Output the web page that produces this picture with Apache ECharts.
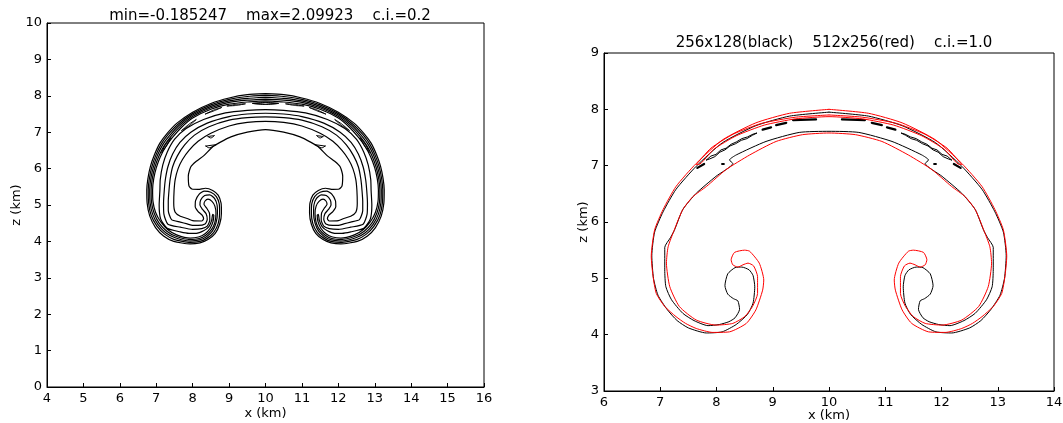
<!DOCTYPE html>
<html>
<head>
<meta charset="utf-8">
<script src="https://cdn.jsdelivr.net/npm/echarts/dist/echarts.min.js"></script>
<style>
  html, body { margin: 0; padding: 0; background: #fff; }
  #chart { width: 1063px; height: 423px; }
</style>
</head>
<body>
<div id="chart"></div>
<script>
// field is symmetric about x = 10 km, so only the left half of each contour is kept,
// read off the picture as [x, z] in km, from the top of the outer edge round to the top of the inner edge

// ---- left panel (c.i. = 0.2) ----
const leftLoopA = [
  [10, 8.06], [9.5, 8.03], [9.0, 7.94], [8.5, 7.79], [8.0, 7.55], [7.57, 7.25], [7.3, 6.97], [7.1, 6.7],
  [6.95, 6.38], [6.84, 6.06], [6.77, 5.72], [6.74, 5.42], [6.75, 5.05], [6.82, 4.7], [6.98, 4.38], [7.2, 4.15],
  [7.48, 4.0], [7.93, 3.93], [8.2, 3.96], [8.42, 4.05], [8.62, 4.22], [8.74, 4.47], [8.79, 4.77], [8.78, 5.05],
  [8.7, 5.27], [8.55, 5.4], [8.35, 5.46], [8.15, 5.43], [7.98, 5.44], [7.9, 5.52], [7.88, 5.8], [7.95, 6.05],
  [8.1, 6.2], [8.3, 6.35], [8.55, 6.6], [8.75, 6.72], [9.05, 6.87], [9.5, 7.0], [10, 7.07]
]
const leftLoopB = [
  [10, 8.01], [9.5, 7.98], [9.0, 7.9], [8.5, 7.75], [8.0, 7.51], [7.6, 7.22], [7.33, 6.94], [7.14, 6.68],
  [6.99, 6.37], [6.88, 6.05], [6.81, 5.72], [6.78, 5.42], [6.79, 5.06], [6.86, 4.72], [7.02, 4.42], [7.23, 4.2],
  [7.5, 4.05], [7.93, 3.97], [8.2, 4.0], [8.4, 4.09], [8.58, 4.25], [8.7, 4.49], [8.74, 4.77], [8.73, 5.03],
  [8.65, 5.23], [8.5, 5.35], [8.32, 5.38], [8.18, 5.3], [8.08, 5.12], [8.07, 4.95], [8.15, 4.82], [8.26, 4.72],
  [8.3, 4.62], [8.25, 4.56], [8.0, 4.57], [7.85, 4.63], [7.66, 4.69], [7.52, 4.8], [7.48, 5.05], [7.49, 5.4],
  [7.52, 5.7], [7.6, 6.0], [7.72, 6.25], [7.9, 6.5], [8.15, 6.75], [8.5, 6.97], [9.0, 7.17], [9.5, 7.27], [10, 7.3]
]
const leftLoopC = [
  [10, 7.96], [9.5, 7.93], [9.0, 7.86], [8.5, 7.71], [8.0, 7.47], [7.63, 7.19], [7.37, 6.91], [7.18, 6.66],
  [7.03, 6.36], [6.92, 6.04], [6.85, 5.72], [6.82, 5.42], [6.83, 5.07], [6.9, 4.75], [7.05, 4.46], [7.26, 4.24],
  [7.52, 4.1], [7.93, 4.01], [8.19, 4.04], [8.38, 4.13], [8.54, 4.28], [8.64, 4.5], [8.68, 4.77], [8.67, 5.0],
  [8.6, 5.18], [8.47, 5.28], [8.33, 5.26], [8.22, 5.14], [8.2, 5.0], [8.27, 4.88], [8.37, 4.76], [8.4, 4.6],
  [8.34, 4.48], [8.15, 4.44], [8.0, 4.44], [7.85, 4.48], [7.66, 4.53], [7.42, 4.6], [7.33, 4.85], [7.33, 5.1],
  [7.35, 5.4], [7.38, 5.7], [7.45, 6.05], [7.58, 6.35], [7.78, 6.65], [8.05, 6.92], [8.45, 7.15], [9.0, 7.33],
  [9.5, 7.4], [10, 7.42]
]
const leftLoopD = [
  [10, 7.91], [9.5, 7.88], [9.0, 7.82], [8.5, 7.67], [8.0, 7.43], [7.66, 7.16], [7.4, 6.88], [7.22, 6.63],
  [7.07, 6.34], [6.96, 6.03], [6.89, 5.72], [6.86, 5.42], [6.87, 5.08], [6.94, 4.78], [7.08, 4.5], [7.29, 4.28],
  [7.54, 4.14], [7.93, 4.05], [8.18, 4.08], [8.36, 4.17], [8.52, 4.33], [8.61, 4.52], [8.64, 4.77], [8.61, 4.97],
  [8.53, 5.1], [8.42, 5.16], [8.34, 5.11], [8.31, 5.02], [8.38, 4.92], [8.46, 4.78], [8.47, 4.58], [8.4, 4.42],
  [8.25, 4.35], [8.0, 4.33], [7.66, 4.39], [7.32, 4.47], [7.21, 4.75], [7.2, 5.05], [7.22, 5.4], [7.25, 5.7],
  [7.32, 6.05], [7.45, 6.4], [7.65, 6.72], [7.95, 7.0], [8.4, 7.25], [9.0, 7.43], [9.5, 7.5], [10, 7.52]
]
const leftLoopE = [
  [10, 7.86], [9.5, 7.83], [9.0, 7.77], [8.5, 7.63], [8.0, 7.39], [7.69, 7.13], [7.44, 6.85], [7.26, 6.6],
  [7.11, 6.32], [7.0, 6.02], [6.93, 5.72], [6.9, 5.42], [6.91, 5.1], [6.98, 4.8], [7.12, 4.54], [7.32, 4.32],
  [7.56, 4.18], [7.93, 4.09], [8.16, 4.12], [8.34, 4.21], [8.48, 4.36], [8.56, 4.55], [8.58, 4.72], [8.55, 4.74],
  [8.52, 4.57], [8.44, 4.4], [8.3, 4.29], [8.1, 4.22], [7.9, 4.22], [7.66, 4.26], [7.3, 4.36], [7.12, 4.62],
  [7.08, 5.0], [7.1, 5.4], [7.11, 5.7], [7.18, 6.1], [7.3, 6.45], [7.5, 6.8], [7.82, 7.1], [8.3, 7.35],
  [8.9, 7.53], [9.5, 7.6], [10, 7.62]
]
// small closed contours between the bands (left side only)
const leftSmall = [
  [[9.65, 7.79], [10, 7.815], [10.35, 7.79], [10, 7.765], [9.65, 7.79]],
  [[8.95, 7.72], [9.2, 7.765], [9.45, 7.78], [9.2, 7.735], [8.95, 7.72]],
  [[8.35, 7.5], [8.6, 7.62], [8.8, 7.68], [8.58, 7.585], [8.35, 7.5]],
  [[7.7, 7.05], [7.9, 7.22], [8.1, 7.35], [7.92, 7.19], [7.7, 7.05]],
  [[7.15, 6.45], [7.25, 6.65], [7.4, 6.85], [7.28, 6.62], [7.15, 6.45]],
  [[8.42, 6.88], [8.6, 6.91], [8.5, 6.84], [8.42, 6.88]],
  [[8.36, 6.62], [8.66, 6.66], [8.45, 6.57], [8.36, 6.62]]
]

// ---- right panel (c.i. = 1.0) ----
const redLoop = [
  [10, 8.0], [9.3, 7.93], [8.7, 7.76], [8.11, 7.46], [7.64, 7.04], [7.28, 6.63], [7.05, 6.22], [6.9, 5.86],
  [6.84, 5.39], [6.87, 5.05], [6.93, 4.73], [7.08, 4.5], [7.28, 4.32], [7.45, 4.2], [7.64, 4.11], [7.93, 4.04],
  [8.23, 4.05], [8.53, 4.2], [8.7, 4.44], [8.82, 4.79], [8.84, 4.97], [8.76, 5.27], [8.59, 5.48], [8.5, 5.5],
  [8.32, 5.46], [8.26, 5.33], [8.29, 5.24], [8.38, 5.2], [8.47, 5.24], [8.56, 5.27], [8.66, 5.22], [8.73, 5.03],
  [8.73, 4.73], [8.64, 4.5], [8.5, 4.32], [8.29, 4.2], [7.99, 4.17], [7.64, 4.26], [7.34, 4.5], [7.17, 4.85],
  [7.11, 5.27], [7.14, 5.56], [7.25, 5.86], [7.4, 6.22], [7.58, 6.45], [7.82, 6.63], [8.17, 6.93], [8.59, 7.19],
  [9.06, 7.43], [9.53, 7.55], [10, 7.58]
]
const redThin = [
  [10, 7.9], [9.4, 7.86], [8.8, 7.75], [8.3, 7.56], [7.9, 7.31], [7.64, 7.02],
  [7.68, 7.02], [7.95, 7.29], [8.35, 7.53], [8.85, 7.72], [9.4, 7.83], [10, 7.87]
]
const blackLoop = [
  [10, 7.95], [9.3, 7.88], [8.7, 7.71], [8.11, 7.41], [7.64, 6.99], [7.28, 6.58], [7.05, 6.18], [6.9, 5.82],
  [6.85, 5.4], [6.88, 5.0], [6.96, 4.7], [7.12, 4.45], [7.3, 4.25], [7.5, 4.12], [7.82, 4.03], [8.1, 4.05],
  [8.35, 4.18], [8.55, 4.36], [8.65, 4.56], [8.68, 4.85], [8.65, 5.05], [8.58, 5.15], [8.45, 5.2], [8.33, 5.19],
  [8.2, 5.08], [8.15, 4.87], [8.2, 4.72], [8.3, 4.64], [8.38, 4.6], [8.41, 4.45], [8.33, 4.3], [8.22, 4.23],
  [8.05, 4.18], [7.85, 4.16], [7.6, 4.25], [7.4, 4.38], [7.2, 4.62], [7.1, 4.85], [7.08, 5.15], [7.08, 5.55],
  [7.18, 5.72], [7.25, 5.85], [7.4, 6.22], [7.64, 6.51], [7.99, 6.81], [8.29, 7.04], [8.23, 7.1], [8.35, 7.19],
  [8.88, 7.43], [9.47, 7.59], [10, 7.61]
]
const blackWavy = [
  [7.82, 7.1], [7.9, 7.17], [7.99, 7.2], [8.08, 7.28], [8.17, 7.31], [8.26, 7.38], [8.35, 7.42], [8.45, 7.48],
  [8.55, 7.51], [8.65, 7.56], [8.72, 7.58], [8.64, 7.54], [8.54, 7.48], [8.44, 7.45], [8.34, 7.39], [8.24, 7.35],
  [8.15, 7.28], [8.06, 7.24], [7.97, 7.16], [7.88, 7.12], [7.82, 7.1]
]
const blackDashes = [
  [[7.66, 6.96], [7.78, 7.03]],
  [[8.1, 7.03], [8.13, 7.03]],
  [[8.82, 7.64], [8.97, 7.68]],
  [[9.06, 7.72], [9.24, 7.76]],
  [[9.36, 7.81], [9.77, 7.82]]
]

const FONT = 'DejaVu Sans'

function mirror(pts) {
  return pts.map(p => [20 - p[0], p[1]])
}

function closedLoop(half) {
  return half.concat(mirror(half).reverse().slice(1))
}

function contour(data, grid, color, width, smooth) {
  return {
    type: 'line',
    xAxisIndex: grid,
    yAxisIndex: grid,
    data: data,
    symbol: 'none',
    showSymbol: false,
    smooth: smooth,
    silent: true,
    animation: false,
    lineStyle: { color: color, width: width, cap: 'round', join: 'round' }
  }
}

const series = []
;[leftLoopA, leftLoopB, leftLoopC, leftLoopD, leftLoopE].forEach(h => {
  series.push(contour(closedLoop(h), 0, '#000', 1.2, 0.2))
})
leftSmall.forEach(s => {
  series.push(contour(s, 0, '#000', 1, 0.2))
  series.push(contour(mirror(s), 0, '#000', 1, 0.2))
})
series.push(contour(closedLoop(blackLoop), 1, '#000', 1, 0.2))
series.push(contour(blackWavy, 1, '#000', 1, 0))
series.push(contour(mirror(blackWavy), 1, '#000', 1, 0))
blackDashes.forEach(d => {
  series.push(contour(d, 1, '#000', 2.2, 0))
  series.push(contour(mirror(d), 1, '#000', 2.2, 0))
})
series.push(contour(closedLoop(redLoop), 1, '#ff0000', 1, 0.2))
series.push(contour(closedLoop(redThin), 1, '#ff0000', 1, 0.2))

function valueAxis(grid, min, max, name, gap) {
  return {
    gridIndex: grid,
    type: 'value',
    min: min,
    max: max,
    interval: 1,
    name: name,
    nameLocation: 'middle',
    nameGap: gap,
    nameMoveOverlap: false,
    nameTextStyle: { color: '#000', fontSize: 13, fontFamily: FONT },
    axisLine: { show: true, onZero: false, lineStyle: { color: '#000', width: 1 } },
    axisTick: { show: true, inside: true, length: 4, lineStyle: { color: '#000', width: 1 } },
    axisLabel: { color: '#000', fontSize: 13, fontFamily: FONT, margin: 5 },
    splitLine: { show: false }
  }
}

const option = {
  backgroundColor: '#fff',
  animation: false,
  title: [
    {
      text: 'min=-0.185247    max=2.09923    c.i.=0.2',
      left: 265,
      top: 4,
      textAlign: 'center',
      textStyle: { color: '#000', fontSize: 15, fontWeight: 'normal', fontFamily: FONT }
    },
    {
      text: '256x128(black)    512x256(red)    c.i.=1.0',
      left: 829,
      top: 31,
      textAlign: 'center',
      textStyle: { color: '#000', fontSize: 15, fontWeight: 'normal', fontFamily: FONT }
    }
  ],
  grid: [
    { left: 47, top: 23, width: 437, height: 364, show: true, borderColor: '#000', borderWidth: 1,
      containLabel: false, outerBoundsMode: 'none' },
    { left: 604, top: 53, width: 450, height: 338, show: true, borderColor: '#000', borderWidth: 1,
      containLabel: false, outerBoundsMode: 'none' }
  ],
  xAxis: [
    valueAxis(0, 4, 16, 'x (km)', 20),
    valueAxis(1, 6, 14, 'x (km)', 18)
  ],
  yAxis: [
    valueAxis(0, 0, 10, 'z (km)', 24),
    valueAxis(1, 3, 9, 'z (km)', 14)
  ],
  series: series
}

const chart = echarts.init(document.getElementById('chart'), null, { renderer: 'canvas' })
chart.setOption(option)
</script>
</body>
</html>
